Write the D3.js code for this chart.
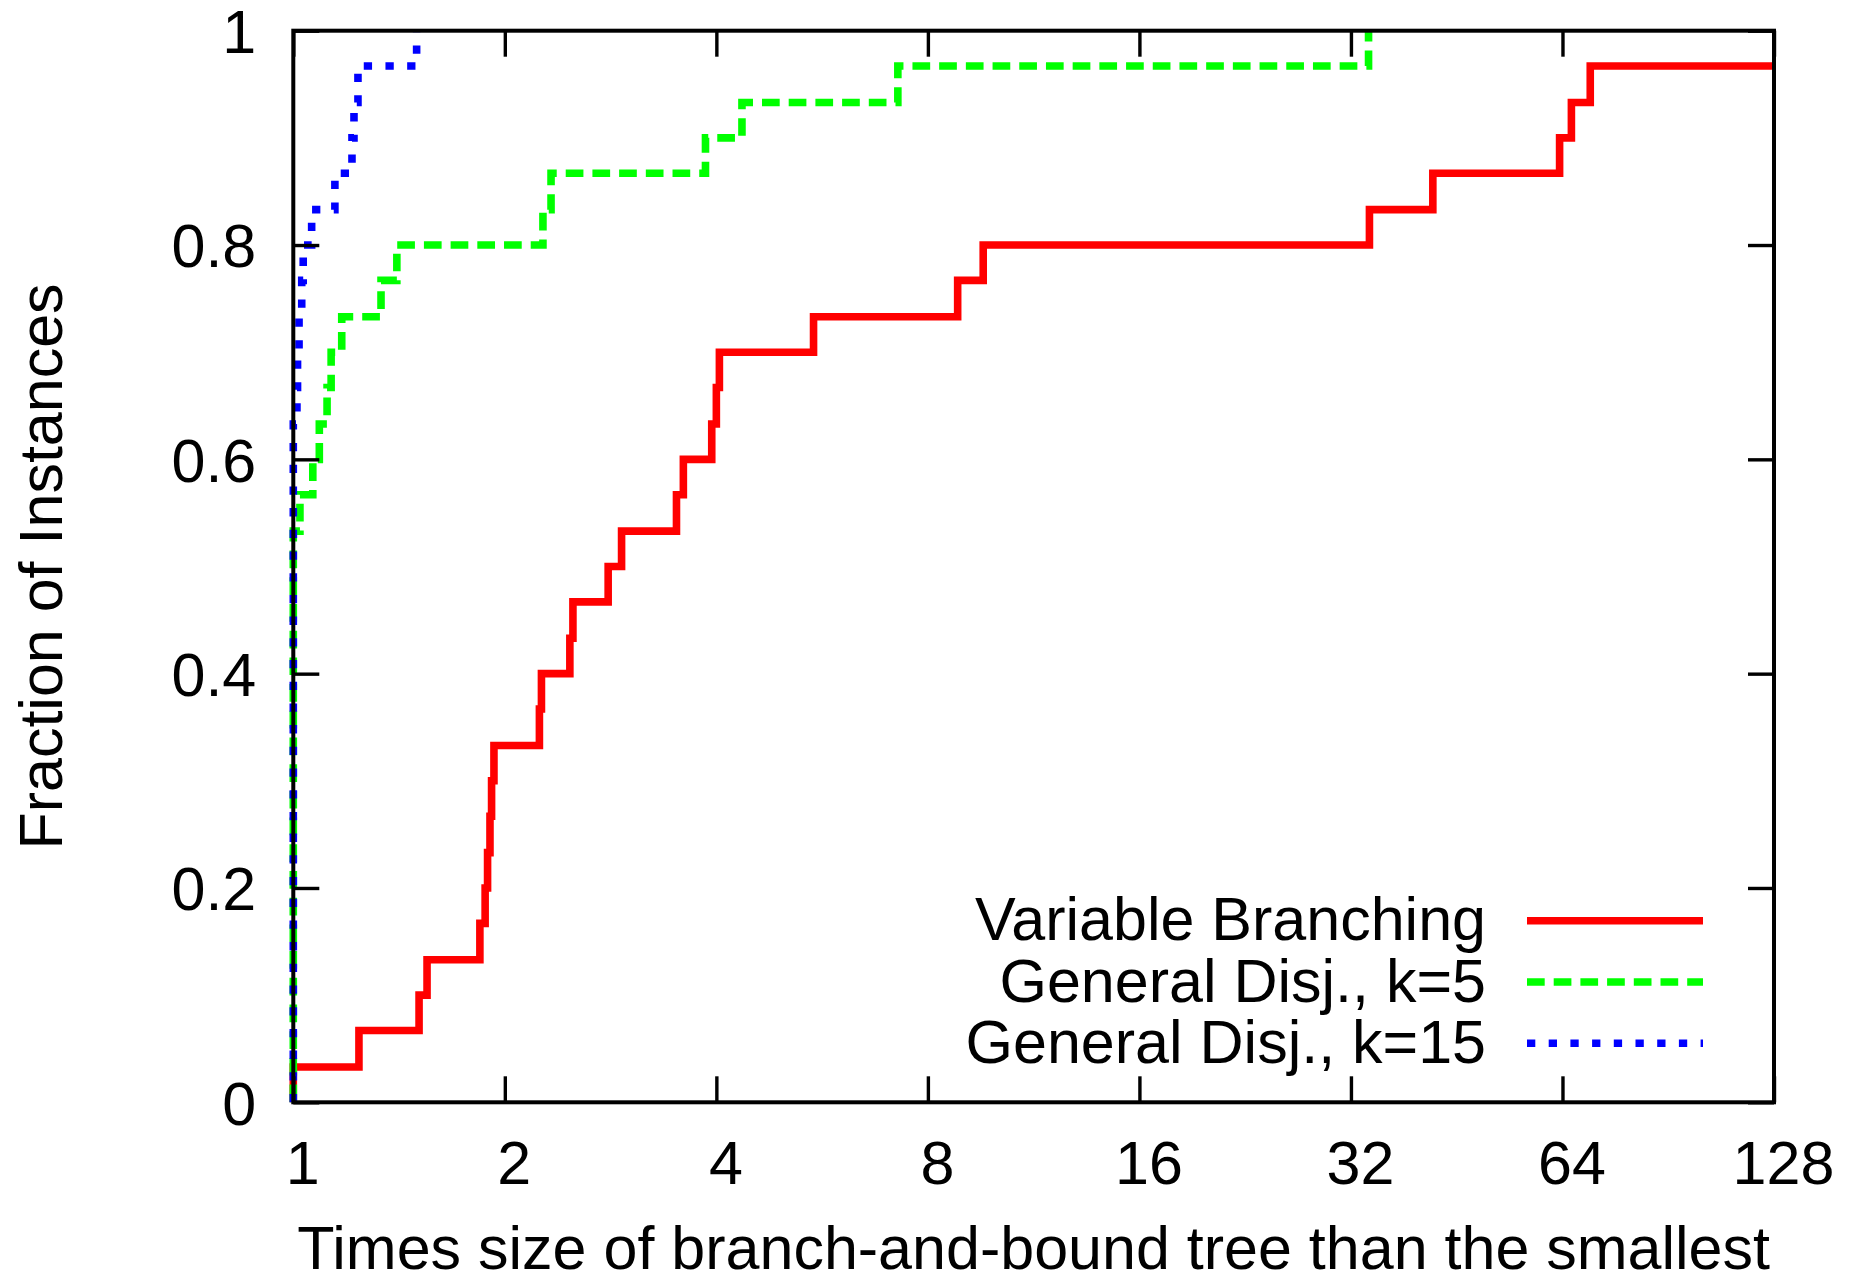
<!DOCTYPE html>
<html>
<head>
<meta charset="utf-8">
<script src="https://cdn.jsdelivr.net/npm/d3@7"></script>
<style>
  body { margin: 0; background: #fff; }
  svg text { font-family: "Liberation Sans", Arial, Helvetica, sans-serif; fill: #000; }
</style>
</head>
<body>
<svg id="chart"></svg>
<script>
// performance profile: fraction of instances vs ratio to the smallest tree
var xTicks = [1, 2, 4, 8, 16, 32, 64, 128];
var yTicks = [0, 0.2, 0.4, 0.6, 0.8, 1];
var yTickLabels = ["0", "0.2", "0.4", "0.6", "0.8", "1"];
var seriesNames = ["Variable Branching", "General Disj., k=5", "General Disj., k=15"];
var seriesColors = ["#ff0000", "#00ff00", "#0000ff"];

// step points: ratio where the step happens, fraction reached after it
var varBranchX = [1, 1, 1.24, 1.51, 1.55, 1.843, 1.875, 1.89, 1.905, 1.915, 1.93,
  2.24, 2.255, 2.475, 2.50, 2.806, 2.932, 3.51, 3.59, 3.94, 4.0, 4.04,
  5.50, 8.82, 9.59, 34.0, 41.85, 63.4, 65.9, 70.1, 128];
var varBranchY = [0, 0.033, 0.067, 0.1, 0.133, 0.167, 0.2, 0.233, 0.267, 0.3, 0.333,
  0.367, 0.4, 0.433, 0.467, 0.5, 0.533, 0.567, 0.6, 0.633, 0.667, 0.7,
  0.733, 0.767, 0.8, 0.833, 0.867, 0.9, 0.933, 0.967, 0.967];

var disj5X = [1, 1, 1.022, 1.066, 1.089, 1.117, 1.132, 1.172, 1.333, 1.404,
  2.266, 2.327, 3.86, 4.35, 7.25, 33.9];
var disj5Y = [0, 0.533, 0.567, 0.6, 0.633, 0.667, 0.7, 0.733, 0.767, 0.8,
  0.833, 0.867, 0.9, 0.933, 0.967, 1];

var disj15X = [1, 1, 1.012, 1.014, 1.019, 1.028, 1.033, 1.062, 1.146, 1.212, 1.22, 1.236, 1.498];
var disj15Y = [0, 0.633, 0.667, 0.7, 0.733, 0.767, 0.8, 0.833, 0.867, 0.9, 0.933, 0.967, 1];

var W = 1857, H = 1283;
var margin = {top: 30.7, right: W - 1774, bottom: H - 1102.3, left: 293.3},
    width = W - margin.left - margin.right,
    height = H - margin.top - margin.bottom;

var svg = d3.select("#chart")
    .attr("width", W)
    .attr("height", H);

var g = svg.append("g")
    .attr("transform", "translate(" + margin.left + "," + margin.top + ")");

var x = d3.scaleLog().base(2)
    .domain([1, 128])
    .range([0, width]);

var y = d3.scaleLinear()
    .domain([0, 1])
    .range([height, 0]);

var dashes = [null, "17.7 9", "8.3 13.4"];
var series = [
  d3.zip(varBranchX, varBranchY),
  d3.zip(disj5X, disj5Y),
  d3.zip(disj15X, disj15Y)
];

var line = d3.line()
    .x(function(d) { return x(d[0]); })
    .y(function(d) { return y(d[1]); })
    .curve(d3.curveStepAfter);

series.forEach(function(pts, i) {
  g.append("path")
    .datum(pts)
    .attr("d", line)
    .style("fill", "none")
    .style("stroke", seriesColors[i])
    .style("stroke-width", 7.6)
    .style("stroke-dasharray", dashes[i]);
});

// axes, ticks pointing inward on all four sides
var tickLen = 26;
var fontSize = 61;

var xAxis = g.append("g")
    .attr("transform", "translate(0," + height + ")")
    .call(d3.axisBottom(x).tickValues(xTicks).tickSize(-tickLen).tickSizeOuter(0)
      .tickPadding(38).tickFormat(d3.format("d")));
xAxis.selectAll("text").attr("x", 9);

var yAxis = g.append("g")
    .call(d3.axisLeft(y).tickValues(yTicks).tickSize(-tickLen).tickSizeOuter(0)
      .tickPadding(37).tickFormat(function(d, i) { return yTickLabels[i]; }));
yAxis.selectAll("text").attr("dy", "0.36em");

g.append("g")
    .call(d3.axisTop(x).tickValues(xTicks).tickSize(-tickLen).tickSizeOuter(0).tickFormat(""));
g.append("g")
    .attr("transform", "translate(" + width + ",0)")
    .call(d3.axisRight(y).tickValues(yTicks).tickSize(-tickLen).tickSizeOuter(0).tickFormat(""));

g.selectAll(".domain").remove();
g.selectAll(".tick line").style("stroke", "#000").style("stroke-width", 3.4);
g.selectAll(".tick text")
    .style("font-size", fontSize + "px")
    .style("font-family", '"Liberation Sans", Arial, Helvetica, sans-serif')
    .style("fill", "#000");

g.append("rect")
    .attr("width", width)
    .attr("height", height)
    .style("fill", "none")
    .style("stroke", "#000")
    .style("stroke-width", 4);

// axis titles
svg.append("text")
    .attr("transform", "translate(62," + (margin.top + height / 2) + ") rotate(-90)")
    .attr("text-anchor", "middle")
    .style("font-size", fontSize + "px")
    .text("Fraction of Instances");

svg.append("text")
    .attr("x", margin.left + width / 2)
    .attr("y", 1269)
    .attr("text-anchor", "middle")
    .style("font-size", fontSize + "px")
    .text("Times size of branch-and-bound tree than the smallest");

// legend
var legend = svg.append("g");
seriesNames.forEach(function(name, i) {
  var ly = 920.7 + i * 61.3;
  legend.append("text")
    .attr("x", 1486)
    .attr("y", ly + 19.5)
    .attr("text-anchor", "end")
    .style("font-size", fontSize + "px")
    .text(name);
  legend.append("line")
    .attr("x1", 1527).attr("x2", 1703)
    .attr("y1", ly).attr("y2", ly)
    .style("stroke", seriesColors[i])
    .style("stroke-width", 7.6)
    .style("stroke-dasharray", dashes[i]);
});
</script>
</body>
</html>
